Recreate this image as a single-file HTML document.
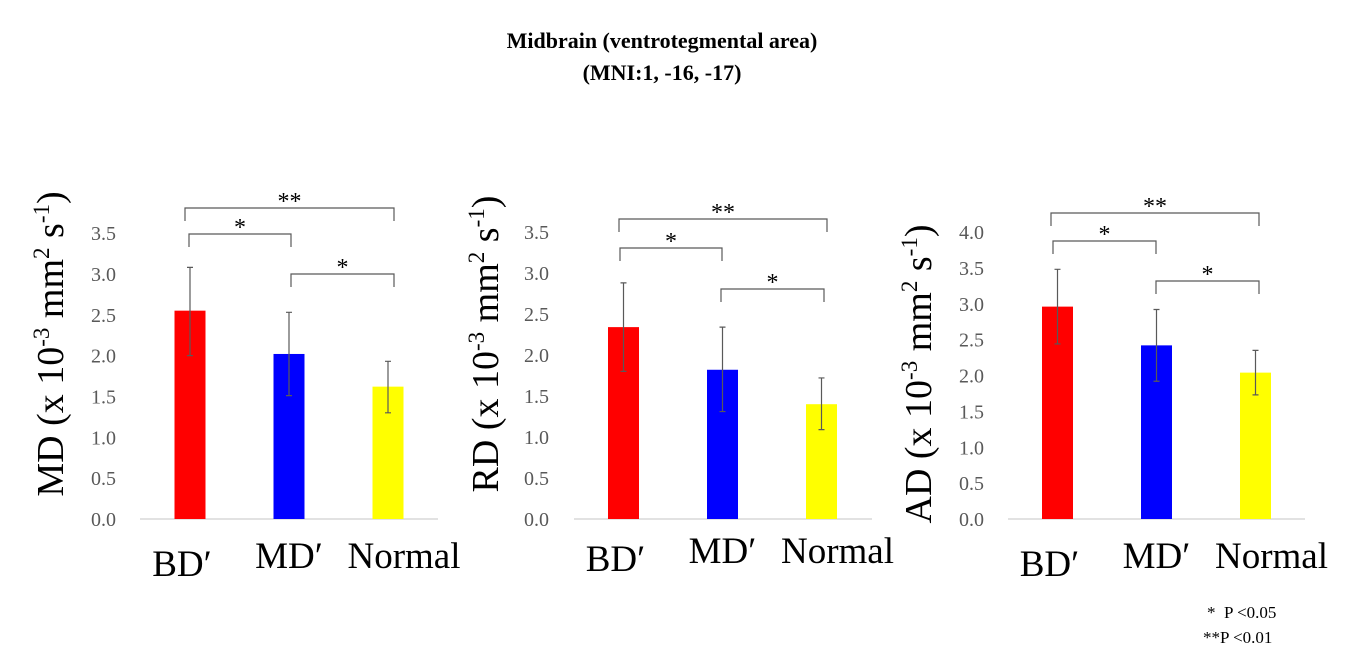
<!DOCTYPE html>
<html><head><meta charset="utf-8"><style>
html,body{margin:0;padding:0;background:#fff;}
svg{display:block;font-family:"Liberation Serif",serif;}
</style></head><body>
<svg id="fig" width="1365" height="662" viewBox="0 0 1365 662">
<text x="662" y="48" text-anchor="middle" font-size="22" font-weight="bold">Midbrain (ventrotegmental area)</text>
<text x="662" y="80" text-anchor="middle" font-size="22" font-weight="bold">(MNI:1, -16, -17)</text>
<text x="1207" y="618" font-size="17" xml:space="preserve">*  P &lt;0.05</text>
<text x="1203" y="643" font-size="17">**P &lt;0.01</text>
</svg>
<script>
const categories = ["BD\u2032","MD\u2032","Normal"];
const colors = ["#ff0000","#0000ff","#ffff00"];
const mdValues = [2.55, 2.02, 1.62];
const mdErrLow = [2.00, 1.51, 1.30];
const mdErrHigh = [3.08, 2.53, 1.93];
const rdValues = [2.34, 1.82, 1.40];
const rdErrLow = [1.80, 1.31, 1.09];
const rdErrHigh = [2.88, 2.34, 1.72];
const adValues = [2.96, 2.42, 2.04];
const adErrLow = [2.44, 1.92, 1.73];
const adErrHigh = [3.48, 2.92, 2.35];
const ticks35 = ["0.0","0.5","1.0","1.5","2.0","2.5","3.0","3.5"];
const ticks40 = ["0.0","0.5","1.0","1.5","2.0","2.5","3.0","3.5","4.0"];

const NS = "http://www.w3.org/2000/svg";
const svg = document.getElementById("fig");
function mk(tag, attrs, parent){
  const e = document.createElementNS(NS, tag);
  for (const k in attrs) e.setAttribute(k, attrs[k]);
  (parent||svg).appendChild(e);
  return e;
}
const labelShift = [-8, 0, 16];

function drawChart(cfg){
  const g = mk("g", {});
  
  
  const y = v => cfg.base - v * cfg.ppu;
  const x0 = cfg.x0;
  const cx = i => x0 + i * 99;
  cfg.ticks.forEach(t => {
    const tx = mk("text", {x: cfg.tickX, y: y(parseFloat(t)) + 7, "text-anchor": "end", "font-size": 20, fill: "#595959"}, g);
    tx.textContent = t;
    
    
  });
  const ax = mk("line", {x1: cfg.axL, x2: cfg.axR, y1: cfg.base, y2: cfg.base, stroke: "#d9d9d9", "stroke-width": 1.5}, g);
  
  
  cfg.values.forEach((v, i) => {
    const r = mk("rect", {x: cx(i) - 15.5, y: y(v), width: 31, height: y(0) - y(v), fill: colors[i]}, g);
    
    
    const eb = mk("path", {d: `M${cx(i)},${y(cfg.lo[i])}V${y(cfg.hi[i])}M${cx(i)-3},${y(cfg.lo[i])}h6M${cx(i)-3},${y(cfg.hi[i])}h6`, stroke: "#595959", "stroke-width": 1.2, fill: "none"}, g);
    
    
    const lb = mk("text", {x: cx(i) + labelShift[i], y: cfg.labY + (i === 0 ? 8 : 0), "text-anchor": "middle", "font-size": 37}, g);
    lb.textContent = categories[i];
    
    
  });
  cfg.brackets.forEach(b => {
    const p = mk("path", {d: `M${b[0]},${b[2]+13}V${b[2]}H${b[1]}V${b[2]+13}`, stroke: "#595959", "stroke-width": 1.2, fill: "none"}, g);
    
    
    const s = mk("text", {x: (b[0]+b[1])/2, y: b[2] + 1, "text-anchor": "middle", "font-size": 24}, g);
    s.textContent = b[3];
    
    
  });
  const t = mk("text", {transform: `translate(${cfg.titleX},${cfg.titleY}) rotate(-90)`, "text-anchor": "middle", "font-size": 38}, g);
  t.innerHTML = cfg.title + ' (x 10<tspan dy="-14" font-size="23">-3</tspan><tspan dy="14"> mm</tspan><tspan dy="-14" font-size="23">2</tspan><tspan dy="14"> s</tspan><tspan dy="-14" font-size="23">-1</tspan><tspan dy="14">)</tspan>';
  
  
}

drawChart({name: "md-chart", title: "MD", values: mdValues, lo: mdErrLow, hi: mdErrHigh, ticks: ticks35,
  base: 519, ppu: 81.7, x0: 190, axL: 140, axR: 438, tickX: 116, labY: 568,
  brackets: [[185, 394, 208, "**"], [189, 291, 234, "*"], [291, 394, 274, "*"]],
  titleX: 63, titleY: 344});
drawChart({name: "rd-chart", title: "RD", values: rdValues, lo: rdErrLow, hi: rdErrHigh, ticks: ticks35,
  base: 519, ppu: 82, x0: 623.5, axL: 574, axR: 872, tickX: 549, labY: 563,
  brackets: [[619, 827, 219, "**"], [620, 722, 248, "*"], [721, 824, 289, "*"]],
  titleX: 498, titleY: 344});
drawChart({name: "ad-chart", title: "AD", values: adValues, lo: adErrLow, hi: adErrHigh, ticks: ticks40,
  base: 519, ppu: 71.75, x0: 1057.5, axL: 1008, axR: 1305, tickX: 984, labY: 568,
  brackets: [[1051, 1259, 213, "**"], [1053, 1156, 241, "*"], [1156, 1259, 281, "*"]],
  titleX: 931, titleY: 374});
</script>
</body></html>
